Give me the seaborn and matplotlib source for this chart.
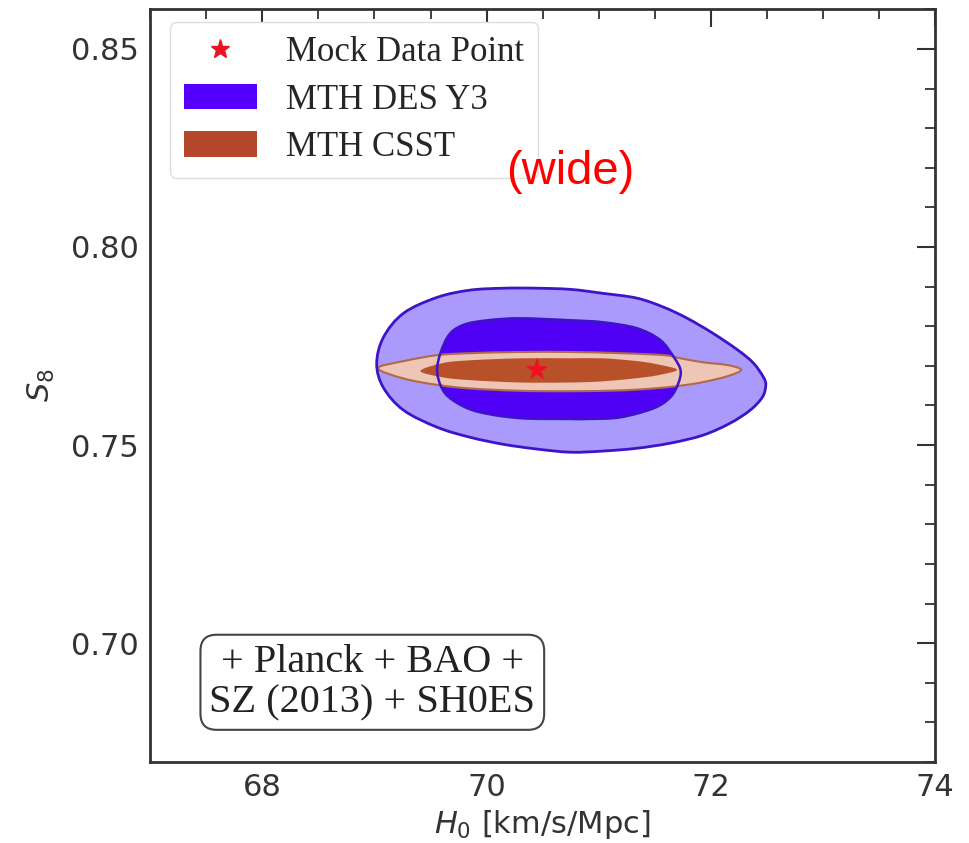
import numpy as np
import pandas as pd
import matplotlib
matplotlib.use("Agg")
import matplotlib.pyplot as plt
from matplotlib.lines import Line2D
from matplotlib.patches import Patch, PathPatch
from matplotlib.path import Path
from matplotlib.ticker import MultipleLocator
import seaborn as sns

# ---------------- data ----------------
mock_H0 = [70.45]
mock_S8 = [0.7690]

# MTH DES Y3, 2-sigma boundary
des_outer_H0 = [69.02, 69.08, 69.26, 69.56, 69.85, 70.15, 70.45, 70.75, 71.04, 71.34,
                71.58, 71.79, 72.02, 72.24, 72.38, 72.47, 72.49, 72.46, 72.35, 72.17,
                71.93, 71.64, 71.34, 71.04, 70.75, 70.45, 70.15, 69.85, 69.56, 69.26, 69.08]
des_outer_S8 = [0.7705, 0.7772, 0.7833, 0.7873, 0.7891, 0.7896, 0.7896, 0.7893, 0.7883, 0.7871,
                0.7848, 0.7820, 0.7782, 0.7740, 0.7707, 0.7671, 0.7651, 0.7621, 0.7588, 0.7555,
                0.7525, 0.7505, 0.7492, 0.7485, 0.7482, 0.7490, 0.7502, 0.7520, 0.7545, 0.7588, 0.7645]
# MTH DES Y3, 1-sigma boundary
des_inner_H0 = [69.56, 69.65, 69.79, 70.01, 70.30, 70.75, 71.04, 71.34, 71.55, 71.67,
                71.73, 71.71, 71.64, 71.49, 71.19, 70.90, 70.75, 70.30, 69.94, 69.74, 69.61]
des_inner_S8 = [0.7697, 0.7772, 0.7803, 0.7815, 0.7820, 0.7815, 0.7810, 0.7795, 0.7765, 0.7722,
                0.7689, 0.7656, 0.7621, 0.7593, 0.7570, 0.7566, 0.7566, 0.7568, 0.7583, 0.7606, 0.7639]
# MTH CSST, 2-sigma boundary
csst_outer_H0 = [69.03, 69.26, 69.56, 69.85, 70.30, 70.75, 71.19, 71.58, 71.73, 71.93, 72.15,
                 72.27, 72.15, 71.93, 71.73, 71.49, 71.19, 70.75, 70.30, 69.85, 69.56, 69.26]
csst_outer_S8 = [0.7694, 0.7712, 0.7727, 0.7732, 0.7735, 0.7735, 0.7732, 0.7727, 0.7719, 0.7709, 0.7702,
                 0.7690, 0.7674, 0.7659, 0.7650, 0.7643, 0.7638, 0.7636, 0.7637, 0.7643, 0.7652, 0.7668]
# MTH CSST, 1-sigma boundary
csst_inner_H0 = [69.41, 69.61, 69.85, 70.30, 70.75, 71.04, 71.34, 71.52, 71.70,
                 71.52, 71.34, 71.04, 70.75, 70.30, 69.85, 69.61]
csst_inner_S8 = [0.7687, 0.7707, 0.7714, 0.7719, 0.7719, 0.7719, 0.7712, 0.7704, 0.7690,
                 0.7676, 0.7669, 0.7661, 0.7658, 0.7658, 0.7664, 0.7671]

legend_labels = ["Mock Data Point", "MTH DES Y3", "MTH CSST"]
x_ticks = [68, 70, 72, 74]
y_ticks = [0.70, 0.75, 0.80, 0.85]


def smooth_closed_path(xs, ys):
    """Closed path through the boundary vertices, drawn with cubic Bezier segments."""
    p = np.column_stack([xs, ys]).astype(float)
    n = len(p)
    verts = [p[0]]
    codes = [Path.MOVETO]
    for i in range(n):
        p0, p1, p2, p3 = p[i - 1], p[i], p[(i + 1) % n], p[(i + 2) % n]
        verts += [p1 + (p2 - p0) / 6.0, p2 - (p3 - p1) / 6.0, p2]
        codes += [Path.CURVE4] * 3
    verts.append(p[0])
    codes.append(Path.CLOSEPOLY)
    return Path(verts, codes)


# ---------------- styling ----------------
sns.set_theme(style="white")
plt.rcParams["font.family"] = ["DejaVu Sans"]
plt.rcParams["mathtext.fontset"] = "dejavusans"

fig = plt.figure(figsize=(9.69, 8.43), dpi=100)
ax = fig.add_axes([0.155, 0.096, 0.81, 0.893])

des_light = "#aa9afb"
des_dark = "#5000f5"
des_edge = "#3d14c8"
csst_light = "#edc6b5"
csst_dark = "#b8502a"
csst_edge = "#b06a4a"

# filled contours
ax.add_patch(PathPatch(smooth_closed_path(des_outer_H0, des_outer_S8),
                       facecolor=des_light, lw=0, zorder=1))
ax.add_patch(PathPatch(smooth_closed_path(des_inner_H0, des_inner_S8),
                       facecolor=des_dark, lw=0, zorder=2))
ax.add_patch(PathPatch(smooth_closed_path(csst_outer_H0, csst_outer_S8),
                       facecolor=csst_light, edgecolor=csst_edge, lw=1.5, zorder=3))
ax.add_patch(PathPatch(smooth_closed_path(csst_inner_H0, csst_inner_S8),
                       facecolor=csst_dark, lw=0, zorder=4))
# DES contour lines on top
ax.add_patch(PathPatch(smooth_closed_path(des_outer_H0, des_outer_S8),
                       facecolor="none", edgecolor=des_edge, lw=2.0, zorder=5))
ax.add_patch(PathPatch(smooth_closed_path(des_inner_H0, des_inner_S8),
                       facecolor="none", edgecolor=des_edge, lw=1.8, zorder=5))

df_mock = pd.DataFrame({"H0": mock_H0, "S8": mock_S8})
sns.scatterplot(data=df_mock, x="H0", y="S8", marker="*", s=300, color="#ee1122",
                edgecolor="none", zorder=6, ax=ax, legend=False)

ax.set_xlim(67, 74)
ax.set_ylim(0.67, 0.86)
ax.set_xticks(x_ticks)
ax.set_yticks(y_ticks)
ax.set_xticklabels([str(t) for t in x_ticks])
ax.set_yticklabels([f"{t:.2f}" for t in y_ticks])
ax.xaxis.set_minor_locator(MultipleLocator(0.5))
ax.yaxis.set_minor_locator(MultipleLocator(0.01))
ax.tick_params(which="both", direction="in", top=True, right=True, color="#333333")
ax.tick_params(which="major", length=13, width=1.5, labelsize=22, labelcolor="#333333", pad=8)
ax.tick_params(which="minor", length=7, width=1.3)
for sp in ax.spines.values():
    sp.set_color("#333333")
    sp.set_linewidth(2)

ax.set_xlabel(r"$H_0$ [km/s/Mpc]", fontsize=22, color="#333333", labelpad=4)
ax.set_ylabel(r"$S_8$", fontsize=22, color="#333333", labelpad=10)

handles = [
    Line2D([], [], marker="*", color="#ee1122", linestyle="none", markersize=14),
    Patch(facecolor="#5500ff", edgecolor="none"),
    Patch(facecolor="#b5472c", edgecolor="none"),
]
leg = ax.legend(handles, legend_labels, loc="upper left", bbox_to_anchor=(0.025, 0.983),
                borderaxespad=0, prop={"family": "Liberation Serif", "size": 25}, frameon=True,
                fancybox=True, framealpha=1, edgecolor="#dddddd", handlelength=2.1,
                handleheight=0.75, borderpad=0.4, labelspacing=0.42, handletextpad=0.85)

ax.text(0.283, 0.106, "+ Planck + BAO +\nSZ (2013) + SH0ES", transform=ax.transAxes,
        ha="center", va="center", fontsize=29, family="Liberation Serif", color="#222222",
        linespacing=1.12,
        bbox=dict(boxstyle="round,pad=0.22,rounding_size=0.4", facecolor="white",
                  edgecolor="#444444", lw=1.5), zorder=7)

fig.text(0.589, 0.796, "(wide)", color="red", fontsize=34, family="Liberation Sans",
         ha="center", va="center")

fig.savefig("out.png", dpi=100)
